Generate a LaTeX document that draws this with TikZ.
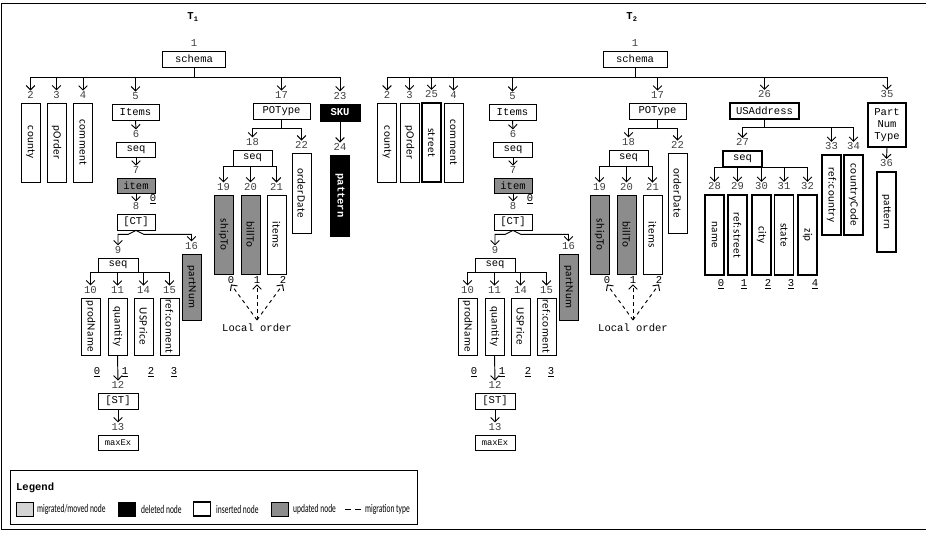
\documentclass[tikz,border=0pt]{standalone}
\usepackage{graphicx}
\usepackage{fontspec}
\setmonofont{Liberation Mono}
\newfontfamily\sansfnt[LetterSpace=4]{Carlito}
\newfontfamily\legfnt[FakeStretch=0.64]{Carlito}
\usetikzlibrary{arrows.meta}
\definecolor{updgray}{RGB}{140,140,140}
\definecolor{miggray}{RGB}{212,212,212}
\newcommand{\sidew}[1]{\rotatebox{-90}{#1}}

\begin{document}
\begin{tikzpicture}[
    x=0.3mm, y=-0.3mm,
    sz/.style 2 args={minimum width=#1*0.3mm, minimum height=#2*0.3mm},
    hbox/.style={draw, line width=0.7pt, inner sep=0pt, font=\ttfamily\fontsize{9}{10}\selectfont},
    vbox/.style={draw, line width=0.7pt, inner sep=0pt, minimum width=5.7mm, minimum height=#1*0.3mm, font=\sansfnt\fontsize{9.5}{10}\selectfont},
    vbox/.default=79,
    upd/.style={fill=updgray},
    del/.style={fill=black, text=white, font=\ttfamily\bfseries\fontsize{9}{10}\selectfont},
    ins/.style={line width=1.6pt},
    num/.style={font=\ttfamily\fontsize{9}{10}\selectfont, inner sep=0.5pt, text=black!75},
    idx/.style={num, text=black},
    tt/.style={font=\ttfamily\fontsize{9}{10}\selectfont},
    arr/.style={-{Straight Barb[length=1.3mm, width=2.6mm]}, line width=0.8pt},
    loc/.style={arr, dashed},
    swatch/.style={draw, line width=0.7pt, minimum width=5.1mm, minimum height=4.2mm, inner sep=0pt},
    legtxt/.style={anchor=west, inner sep=0pt, font=\legfnt\fontsize{10}{11}\selectfont},
    label distance=1mm
]
\useasboundingbox (0,0) rectangle (926,532);
\draw[line width=0.7pt] (926,3) -- (1.5,3) -- (1.5,529.5) -- (926,529.5);

% T1
\node[tt] (t1) at (193,17) {\bfseries T\textsubscript{1}};
\node[hbox, sz={63}{16}, label={[num,name=n1]above:1}] (a1) at (194,59) {schema};
\node[vbox, label={[num,name=n2]above:2}] (b2) at (30.5,142.5) {\sidew{county}};
\node[vbox, label={[num,name=n3]above:3}] (b3) at (56.5,142.5) {\sidew{pOrder}};
\node[vbox, label={[num,name=n4]above:4}] (b4) at (83,142.5) {\sidew{comment}};
\node[hbox, sz={47}{16}, label={[num,name=n5]above:5}] (a5) at (135.5,112) {Items};
\node[hbox, sz={39}{15}, label={[num,name=n6]above:6}] (a6) at (136,149.5) {seq};
\node[hbox, upd, sz={38}{15}, label={[num,name=n7]above:7}] (a7) at (136,185.5) {item};
\node[idx] (o7) at (153,199) {\underline{0}};
\node[hbox, sz={38}{16}, label={[num,name=n8]above:8}] (a8) at (136,222) {[CT]};
\node[hbox, sz={40}{14}, label={[num,name=n9]above:9}] (a9) at (118,265) {seq};
\node[vbox=66, upd, label={[num,name=n16]above:16}] (b16) at (191.5,287) {\sidew{partNum}};
\node[vbox=57, label={[num,name=n10]above:10}] (b10) at (90.5,326.5) {\sidew{prodName}};
\node[vbox=57, label={[num,name=n11]above:11}] (b11) at (117.5,326.5) {\sidew{quantity}};
\node[vbox=57, label={[num,name=n14]above:14}] (b14) at (143.5,326.5) {\sidew{USPrice}};
\node[vbox=57, label={[num,name=n15]above:15}] (b15) at (169.5,326.5) {\sidew{ref:coment}};
\node[idx] (o10) at (97,372) {\underline{0}};
\node[idx] (o11) at (125,372) {\underline{1}};
\node[idx] (o14) at (151,372) {\underline{2}};
\node[idx] (o15) at (174,372) {\underline{3}};
\node[hbox, sz={40}{16}, label={[num,name=n12]above:12}] (a12) at (118,401) {[ST]};
\node[hbox, sz={40}{15}, font=\ttfamily\fontsize{7.5}{9}\selectfont, label={[num,name=n13]above:13}] (a13) at (118,442.5) {maxEx};
\node[hbox, sz={57}{16}, label={[num,name=n17]above:17}] (a17) at (281.5,111) {POType};
\node[hbox, sz={39}{16}, label={[num,name=n18]above:18}] (a18) at (252.5,158) {seq};
\node[vbox, upd, label={[num,name=n19]above:19}] (b19) at (223.5,234.5) {\sidew{shipTo}};
\node[vbox, upd, label={[num,name=n20]above:20}] (b20) at (250.5,234.5) {\sidew{billTo}};
\node[vbox, label={[num,name=n21]above:21}] (b21) at (276.5,234.5) {\sidew{items}};
\node[vbox=80, label={[num,name=n22]above:22}] (b22) at (301.5,193) {\sidew{orderDate}};
\node[hbox, del, sz={40}{17}, label={[num,name=n23]above:23}] (a23) at (340,112.5) {SKU};
\node[vbox=81, del, label={[num,name=n24]above:24}] (b24) at (340,195.5) {\sidew{pattern}};
\node[idx] (i19) at (231,280) {0};
\node[idx] (i20) at (257,280) {1};
\node[idx] (i21) at (283,280) {2};
\node[tt] (lt1) at (257,328) {Local order};

\coordinate (j1) at (194,77);
\foreach \c in {n2,n3,n4,n5,n17,n23} \draw[arr] (a1.south) -- (j1) -| (\c.north);
\draw[arr] (a5.south) -- (n6.north);
\draw[arr] (a6.south) -- (n7.north);
\draw[arr] (a7.south) -- (n8.north);
\draw[arr] (a8.south) -- ++(-8,4) -| (n9.north);
\draw[arr] (a8.south) -- ++(8,4) -| (n16.north);
\foreach \c in {n10,n11,n14,n15} \draw[arr] (a9.south) -| (\c.north);
\draw[arr] (b11.south) -- (n12.north);
\draw[arr] (a12.south) -- (n13.north);
\foreach \c in {n18,n22} \draw[arr] (a17.south) -- ++(0,9) -| (\c.north);
\foreach \c in {n19,n20,n21} \draw[arr] (a18.south) -| (\c.north);
\draw[arr] (a23.south) -- (n24.north);
\foreach \c in {i19,i20,i21} \draw[loc] (lt1.north) -- (\c.south);

% T2
\node[tt] (t2) at (632,17) {\bfseries T\textsubscript{2}};
\node[hbox, sz={64}{16}, label={[num,name=m1]above:1}] (c1) at (635,59) {schema};
\node[vbox, label={[num,name=m2]above:2}] (d2) at (387,142.5) {\sidew{county}};
\node[vbox, label={[num,name=m3]above:3}] (d3) at (409.5,142.5) {\sidew{pOrder}};
\node[vbox, ins, label={[num,name=m25]above:25}] (d25) at (431.5,142.5) {\sidew{street}};
\node[vbox, label={[num,name=m4]above:4}] (d4) at (453.5,142.5) {\sidew{comment}};
\node[hbox, sz={47}{16}, label={[num,name=m5]above:5}] (c5) at (512.5,112) {Items};
\node[hbox, sz={39}{15}, label={[num,name=m6]above:6}] (c6) at (513,149.5) {seq};
\node[hbox, upd, sz={38}{15}, label={[num,name=m7]above:7}] (c7) at (513,185.5) {item};
\node[idx] (k7) at (530,199) {\underline{0}};
\node[hbox, sz={38}{16}, label={[num,name=m8]above:8}] (c8) at (513,222) {[CT]};
\node[hbox, sz={40}{14}, label={[num,name=m9]above:9}] (c9) at (495,265) {seq};
\node[vbox=66, upd, label={[num,name=m16]above:16}] (d16) at (568.5,287) {\sidew{partNum}};
\node[vbox=57, label={[num,name=m10]above:10}] (d10) at (467.5,326.5) {\sidew{prodName}};
\node[vbox=57, label={[num,name=m11]above:11}] (d11) at (494.5,326.5) {\sidew{quantity}};
\node[vbox=57, label={[num,name=m14]above:14}] (d14) at (520.5,326.5) {\sidew{USPrice}};
\node[vbox=57, label={[num,name=m15]above:15}] (d15) at (546.5,326.5) {\sidew{ref:coment}};
\node[idx] (k10) at (474,372) {\underline{0}};
\node[idx] (k11) at (502,372) {\underline{1}};
\node[idx] (k14) at (528,372) {\underline{2}};
\node[idx] (k15) at (551,372) {\underline{3}};
\node[hbox, sz={40}{16}, label={[num,name=m12]above:12}] (c12) at (495,401) {[ST]};
\node[hbox, sz={40}{15}, font=\ttfamily\fontsize{7.5}{9}\selectfont, label={[num,name=m13]above:13}] (c13) at (495,442.5) {maxEx};
\node[hbox, sz={57}{16}, label={[num,name=m17]above:17}] (c17) at (657.5,111) {POType};
\node[hbox, sz={39}{16}, label={[num,name=m18]above:18}] (c18) at (628.5,158) {seq};
\node[vbox, upd, label={[num,name=m19]above:19}] (d19) at (599.5,234.5) {\sidew{shipTo}};
\node[vbox, upd, label={[num,name=m20]above:20}] (d20) at (626.5,234.5) {\sidew{billTo}};
\node[vbox, label={[num,name=m21]above:21}] (d21) at (652.5,234.5) {\sidew{items}};
\node[vbox=80, label={[num,name=m22]above:22}] (d22) at (677.5,193) {\sidew{orderDate}};
\node[idx] (k19) at (607,280) {0};
\node[idx] (k20) at (633,280) {1};
\node[idx] (k21) at (659,280) {2};
\node[tt] (lt2) at (633,328) {Local order};
\node[hbox, ins, sz={69}{16}, label={[num,name=m26]above:26}] (c26) at (764.5,111) {USAddress};
\node[hbox, ins, sz={39}{16}, label={[num,name=m27]above:27}] (c27) at (742.5,159) {seq};
\node[vbox=80, ins, label={[num,name=m28]above:28}] (d28) at (714.5,235) {\sidew{name}};
\node[vbox=80, ins, label={[num,name=m29]above:29}] (d29) at (737.5,235) {\sidew{ref:street}};
\node[vbox=80, ins, label={[num,name=m30]above:30}] (d30) at (761.5,235) {\sidew{city}};
\node[vbox=80, ins, label={[num,name=m31]above:31}] (d31) at (784,235) {\sidew{state}};
\node[vbox=80, ins, label={[num,name=m32]above:32}] (d32) at (807.5,235) {\sidew{zip}};
\node[idx] (k28) at (721,284) {\underline{0}};
\node[idx] (k29) at (744,284) {\underline{1}};
\node[idx] (k30) at (768,284) {\underline{2}};
\node[idx] (k31) at (791,284) {\underline{3}};
\node[idx] (k32) at (815,284) {\underline{4}};
\node[vbox=80, ins, label={[num,name=m33]above:33}] (d33) at (831.5,195) {\sidew{ref:country}};
\node[vbox=80, ins, label={[num,name=m34]above:34}] (d34) at (853.5,195) {\sidew{countryCode}};
\node[hbox, ins, sz={38}{44}, align=center, label={[num,name=m35]above:35}] (c35) at (887,125) {Part\\Num\\Type};
\node[vbox=80, ins, label={[num,name=m36]above:36}] (d36) at (886.5,212) {\sidew{pattern}};

\coordinate (j2) at (635,77);
\foreach \c in {m2,m3,m25,m4,m5,m17,m26,m35} \draw[arr] (c1.south) -- (j2) -| (\c.north);
\draw[arr] (c5.south) -- (m6.north);
\draw[arr] (c6.south) -- (m7.north);
\draw[arr] (c7.south) -- (m8.north);
\draw[arr] (c8.south) -- ++(-8,4) -| (m9.north);
\draw[arr] (c8.south) -- ++(8,4) -| (m16.north);
\foreach \c in {m10,m11,m14,m15} \draw[arr] (c9.south) -| (\c.north);
\draw[arr] (d11.south) -- (m12.north);
\draw[arr] (c12.south) -- (m13.north);
\foreach \c in {m18,m22} \draw[arr] (c17.south) -- ++(0,9) -| (\c.north);
\foreach \c in {m19,m20,m21} \draw[arr] (c18.south) -| (\c.north);
\foreach \c in {k19,k20,k21} \draw[loc] (lt2.north) -- (\c.south);
\foreach \c in {m27,m33,m34} \draw[arr] (c26.south) -- ++(0,8) -| (\c.north);
\foreach \c in {m28,m29,m30,m31,m32} \draw[arr] (c27.south) -| (\c.north);
\draw[arr] (c35.south) -- (m36.north);

% legend
\draw[line width=0.7pt] (10,470) rectangle (417,524);
\node[anchor=west, font=\ttfamily\bfseries\fontsize{9}{10}\selectfont] (lg) at (12,488) {Legend};
\node[swatch, fill=miggray] (s1) at (24.5,509) {};
\node[legtxt] (g1) at (37,509) {migrated/moved node};
\node[swatch, fill=black] (s2) at (126.5,509) {};
\node[legtxt] (g2) at (141,509) {deleted node};
\node[swatch, ins] (s3) at (202,509) {};
\node[legtxt] (g3) at (216,509) {inserted node};
\node[swatch, fill=updgray] (s4) at (280,509) {};
\node[legtxt] (g4) at (293,509) {updated node};
\draw[line width=0.8pt, dash pattern=on 1.8mm off 1.2mm] (345,509) -- (361,509);
\node[legtxt] (g5) at (365,509) {migration type};
\end{tikzpicture}
\end{document}
